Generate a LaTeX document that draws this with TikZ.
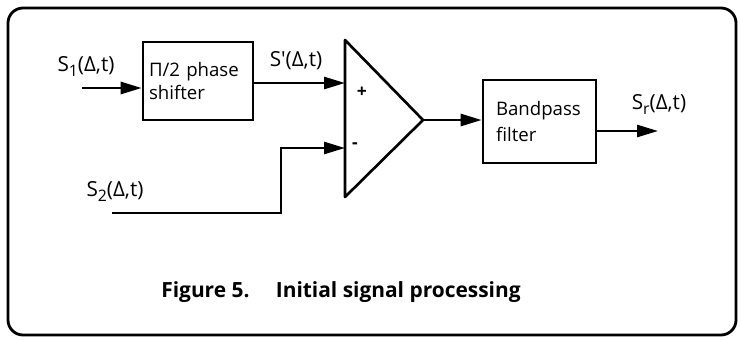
\documentclass[tikz,border=0pt]{standalone}
\usepackage{fontspec}
\setmainfont{Open Sans}
\usetikzlibrary{arrows.meta,calc,positioning}
\tikzset{
	block/.style={draw, line width=1.5pt, minimum width=#1, align=left, font=\fontsize{10.6}{13}\selectfont},
	sigline/.style={line width=1.5pt, -{Triangle[length=0.42cm,width=0.24cm]}},
	plainline/.style={line width=1.5pt},
	siglabel/.style={font=\fontsize{11.8}{14}\selectfont}
}
\newcommand{\lowidx}[1]{\raisebox{-0.45ex}{\fontsize{9}{10}\selectfont #1}}
\begin{document}
\begin{tikzpicture}
        \useasboundingbox (0, 0) rectangle (14.82, -6.78);
        \draw[line width=1.6pt, rounded corners=0.3cm] (0.16, -0.16) rectangle (14.72, -6.70);
        % blocks
        \node[block=2.2cm, minimum height=1.56cm, inner xsep=0.12cm, text width=1.96cm] (shift) at (3.96, -1.62) {Π/2 phase\\shifter};
        \node[block=2.26cm, minimum height=1.66cm, inner xsep=0.26cm, text width=1.74cm] (bpf) at (10.79, -2.43) {Bandpass\\[2pt]filter};
        % amplifier
        \coordinate (amp_top) at (6.90, -0.80);
        \coordinate (amp_bot) at (6.90, -3.94);
        \coordinate (amp_out) at (8.46, -2.40);
        \draw[plainline, line join=round] (amp_top) -- (amp_out) -- (amp_bot) -- cycle;
        \node[font=\bfseries] (plus) at (7.24, -1.84) {+};
        \node[font=\bfseries] (minus) at (7.10, -2.92) {-};
        % signals
        \coordinate (s1_in) at (1.64, -1.76);
        \coordinate (plus_in) at (6.90, -1.66);
        \coordinate (minus_in) at (6.90, -2.96);
        \coordinate (s2_in) at (2.24, -4.26);
        \coordinate (s2_bend) at (5.62, -4.26);
        \coordinate (sr_out) at (13.16, -2.62);
        \node[siglabel] (s1_lab) at (1.72, -1.32) {S\lowidx{1}(Δ,t)};
        \node[siglabel] (sp_lab) at (5.92, -1.22) {S\textquotesingle(Δ,t)};
        \node[siglabel] (s2_lab) at (2.30, -3.82) {S\lowidx{2}(Δ,t)};
        \node[siglabel] (sr_lab) at (13.18, -2.08) {S\lowidx{r}(Δ,t)};
        \draw[sigline] (s1_in) -- (shift.west |- s1_in);
        \draw[sigline] (shift.east |- plus_in) -- (plus_in);
        \draw[sigline] (s2_in) -- (s2_bend) |- (minus_in);
        \draw[sigline] (amp_out) -- (bpf.west |- amp_out);
        \draw[sigline] (bpf.east |- sr_out) -- (sr_out);
        \node[font=\fontsize{11.9}{14}\selectfont\bfseries] (caption) at (6.82, -5.84) {Figure 5.\quad\ Initial signal processing};
    \end{tikzpicture}
\end{document}
